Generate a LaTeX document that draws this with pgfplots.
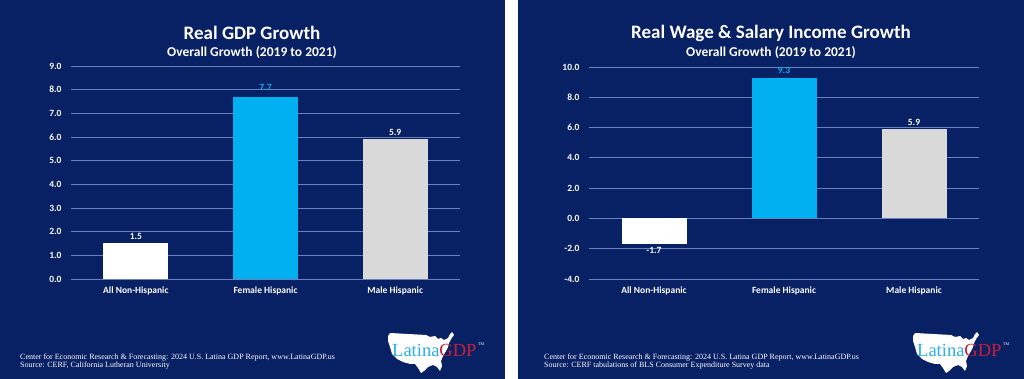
\documentclass[border=0pt]{standalone}
\usepackage{pgfplots}
\pgfplotsset{compat=1.18}
\usepackage{fontspec}
\setmainfont{Carlito}
\newfontfamily\serif{Liberation Serif}
\definecolor{navy}{RGB}{8,32,100}
\definecolor{cblue}{RGB}{0,176,240}
\definecolor{cgrey}{RGB}{217,217,217}
\definecolor{gridc}{RGB}{105,130,190}
\definecolor{logored}{RGB}{200,30,60}
\definecolor{logoblue}{RGB}{40,175,235}
\pgfplotsset{panel/.style={
  scale only axis, anchor=south west,
  axis line style={draw=none}, tick style={draw=none},
  ymajorgrids, major grid style={gridc, line width=0.8pt},
  xmin=-0.5, xmax=2.5, xtick={0,1,2},
  xticklabels={All Non-Hispanic, Female Hispanic, Male Hispanic},
  ticklabel style={font=\bfseries\fontsize{9.5}{11}\selectfont, text=white},
  yticklabel style={xshift=-6pt},
  xticklabel style={yshift=-4pt},
  /pgf/number format/assume math mode=true,
  yticklabel={\pgfmathprintnumber[fixed,fixed zerofill,precision=1]{\tick}},
  nodes near coords={\pgfmathprintnumber[fixed,fixed zerofill,precision=1,assume math mode=true]{\pgfplotspointmeta}},
  every node near coord/.append style={font=\bfseries\fontsize{9.5}{11}\selectfont, text=white},
}}
\pgfplotsset{bar/.style={ybar, bar width=65pt, bar shift=0pt, draw=none}}
\newcommand\logo[2]{%
\begin{scope}[shift={(#1pt,#2pt)}, yscale=-1, x=1pt, y=1pt]
\fill[white] (0,4) -- (2,1) -- (20,2) -- (38,3) -- (42,5) -- (47,4) -- (50,7) -- (53,6) -- (56,8) -- (60,6) -- (62,2) -- (64,0) -- (66,3) -- (63,7) -- (61,11) -- (60,15) -- (58,19) -- (55,24) -- (53,29) -- (54,34) -- (52,39) -- (49,35) -- (45,33) -- (40,35) -- (36,39) -- (33,41) -- (30,36) -- (27,32) -- (22,32) -- (15,30) -- (9,27) -- (4,22) -- (2,15) -- (0,9) -- cycle;
\node[anchor=base west, inner sep=0pt] at (4,25) {\serif\fontsize{18.5}{18.5}\selectfont\textcolor{logoblue}{Latina}\textcolor{logored}{GDP}};
\node[anchor=west, inner sep=0pt, text=white] at (90,12) {\serif\fontsize{4}{4}\selectfont TM};
\end{scope}}
\begin{document}
\begin{tikzpicture}
\useasboundingbox (0,0) rectangle (1024pt,379pt);
\fill[white] (0,0) rectangle (1024pt,379pt);
\fill[navy] (0,0) rectangle (505pt,379pt);
\fill[navy] (518pt,0) rectangle (1024pt,379pt);
% titles
\node[text=white, font=\bfseries\fontsize{19}{22}\selectfont] at (252pt,346pt) {Real GDP Growth};
\node[text=white, font=\bfseries\fontsize{13.5}{16}\selectfont] at (252pt,326pt) {Overall Growth (2019 to 2021)};
\node[text=white, font=\bfseries\fontsize{19}{22}\selectfont] at (771pt,346pt) {Real Wage \& Salary Income Growth};
\node[text=white, font=\bfseries\fontsize{13.5}{16}\selectfont] at (771pt,326pt) {Overall Growth (2019 to 2021)};
% left chart
\begin{axis}[panel, at={(71pt,100pt)}, width=389pt, height=213pt,
  ymin=0, ymax=9, ytick={0,1,...,9}]
\addplot[bar, fill=white] coordinates {(0,1.5)};
\addplot[bar, fill=cblue, every node near coord/.append style={text=cblue, yshift=3pt}] coordinates {(1,7.7)};
\addplot[bar, fill=cgrey] coordinates {(2,5.9)};
\end{axis}
% right chart
\begin{axis}[panel, at={(589pt,100pt)}, width=390pt, height=212pt,
  ymin=-4, ymax=10, ytick={-4,-2,...,10}]
\addplot[bar, fill=white] coordinates {(0,-1.7)};
\addplot[bar, fill=cblue, every node near coord/.append style={text=cblue}] coordinates {(1,9.3)};
\addplot[bar, fill=cgrey] coordinates {(2,5.9)};
\end{axis}
% footers
\node[anchor=base west, inner sep=0pt, text=white, font=\serif\fontsize{8}{9}\selectfont] at (20pt,19pt) {Center for Economic Research \& Forecasting: 2024 U.S. Latina GDP Report, www.LatinaGDP.us};
\node[anchor=base west, inner sep=0pt, text=white, font=\serif\fontsize{8}{9}\selectfont] at (20pt,11pt) {Source: CERF, California Lutheran University};
\node[anchor=base west, inner sep=0pt, text=white, font=\serif\fontsize{8}{9}\selectfont] at (544pt,19pt) {Center for Economic Research \& Forecasting: 2024 U.S. Latina GDP Report, www.LatinaGDP.us};
\node[anchor=base west, inner sep=0pt, text=white, font=\serif\fontsize{8}{9}\selectfont] at (544pt,11pt) {Source: CERF tabulations of BLS Consumer Expenditure Survey data};
\logo{388}{47}
\logo{913}{47}
\end{tikzpicture}
\end{document}
